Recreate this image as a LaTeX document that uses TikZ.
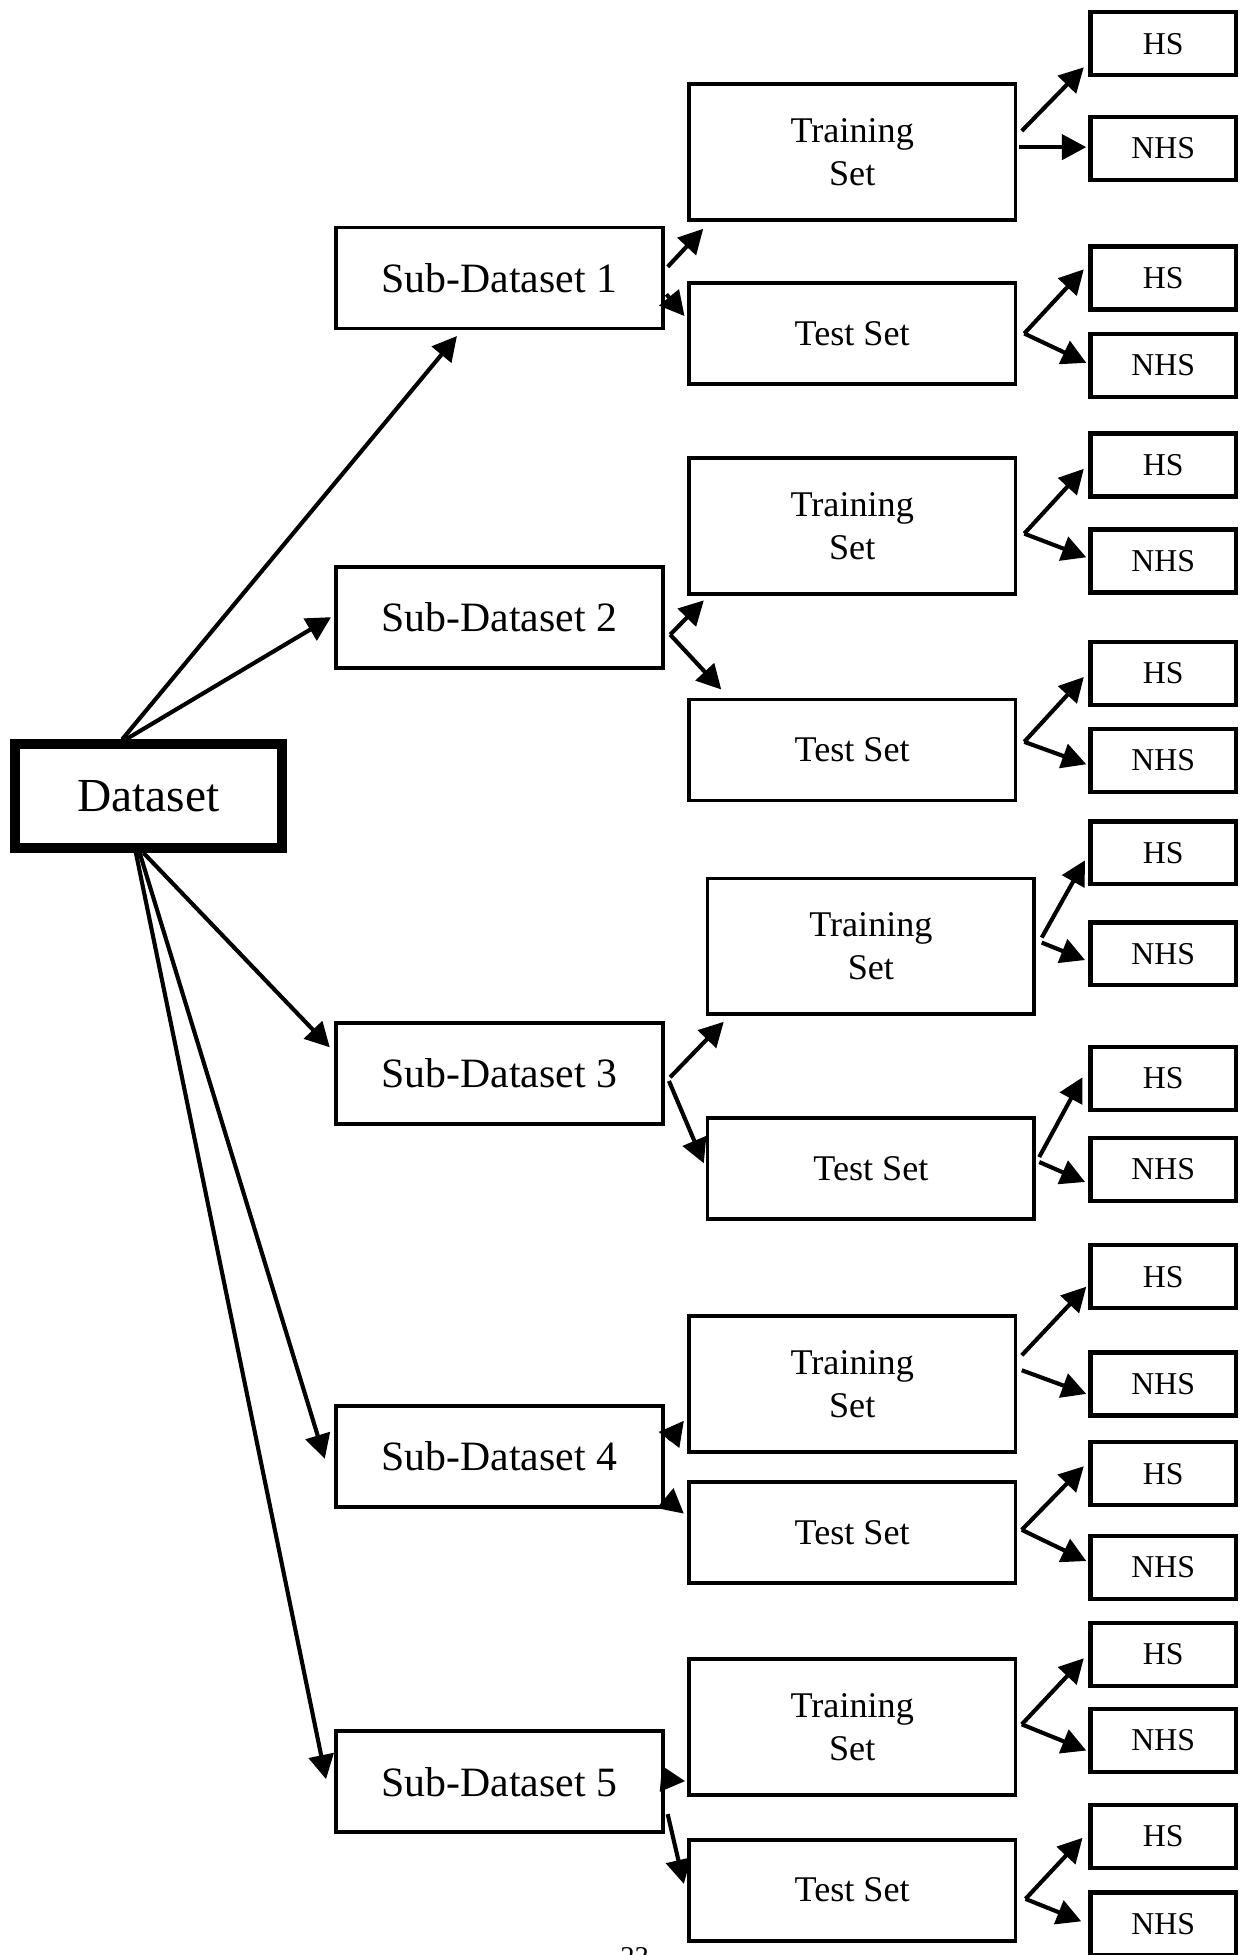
\documentclass[tikz,border=0pt]{standalone}
\usepackage{fontspec}
\setmainfont{Liberation Serif}
\usetikzlibrary{arrows.meta}
\tikzset{
  box/.style={draw, line width=3pt, rectangle, inner sep=0pt, align=center},
  dsbox/.style={draw, line width=8pt, rectangle, inner sep=0pt, minimum width=214pt, minimum height=83pt, font=\fontsize{38}{45}\selectfont},
  subbox/.style={box, minimum width=262pt, minimum height=81pt, font=\fontsize{33.5}{40}\selectfont},
  trbox/.style={box, minimum width=262pt, minimum height=109pt, font=\fontsize{29}{34.5}\selectfont},
  tebox/.style={box, minimum width=262pt, minimum height=81pt, font=\fontsize{29}{34.5}\selectfont},
  leaf/.style={draw, line width=3.5pt, rectangle, inner sep=0pt, minimum width=116.5pt, minimum height=50.5pt, font=\fontsize{25.5}{30}\selectfont},
  arr/.style={line width=3.3pt, -{Triangle[length=19.5pt,width=20pt]}}
}
\begin{document}
\begin{tikzpicture}[x=1pt,y=-1pt]
\fill[white] (0,0) rectangle (994,1568);
\useasboundingbox (0,0) rectangle (994,1568);

% main node
\node[dsbox] (ds) at (119,638.5) {Dataset};

% sub-datasets
\node[subbox] (sd1) at (400.5,223) {Sub-Dataset 1};
\node[subbox] (sd2) at (400.5,495) {Sub-Dataset 2};
\node[subbox] (sd3) at (400.5,861) {Sub-Dataset 3};
\node[subbox] (sd4) at (400.5,1168) {Sub-Dataset 4};
\node[subbox] (sd5) at (400.5,1429) {Sub-Dataset 5};

% training / test sets
\node[trbox] (tr1) at (683.5,122) {Training\\Set};
\node[tebox] (te1) at (683.5,267.5) {Test Set};
\node[trbox] (tr2) at (683.5,422) {Training\\Set};
\node[tebox] (te2) at (683.5,601.5) {Test Set};
\node[trbox] (tr3) at (698.5,759) {Training\\Set};
\node[tebox] (te3) at (698.5,937) {Test Set};
\node[trbox] (tr4) at (683.5,1110) {Training\\Set};
\node[tebox] (te4) at (683.5,1229) {Test Set};
\node[trbox] (tr5) at (683.5,1385) {Training\\Set};
\node[tebox] (te5) at (683.5,1516) {Test Set};

% leaves
\node[leaf] (hs1) at (933,35) {HS};
\node[leaf] (nhs1) at (933,119) {NHS};
\node[leaf] (hs2) at (933,223) {HS};
\node[leaf] (nhs2) at (933,293) {NHS};
\node[leaf] (hs3) at (933,373) {HS};
\node[leaf] (nhs3) at (933,450) {NHS};
\node[leaf] (hs4) at (933,540) {HS};
\node[leaf] (nhs4) at (933,610) {NHS};
\node[leaf] (hs5) at (933,684) {HS};
\node[leaf] (nhs5) at (933,765) {NHS};
\node[leaf] (hs6) at (933,865) {HS};
\node[leaf] (nhs6) at (933,938) {NHS};
\node[leaf] (hs7) at (933,1024) {HS};
\node[leaf] (nhs7) at (933,1110) {NHS};
\node[leaf] (hs8) at (933,1182) {HS};
\node[leaf] (nhs8) at (933,1257) {NHS};
\node[leaf] (hs9) at (933,1327) {HS};
\node[leaf] (nhs9) at (933,1396) {NHS};
\node[leaf] (hs10) at (933,1473) {HS};
\node[leaf] (nhs10) at (933,1543) {NHS};

% page number (cut off at the bottom, as in the reference)
\node[anchor=north, inner sep=0pt, font=\fontsize{23}{27}\selectfont] (pg) at (509,1562) {23};

% Dataset -> sub-datasets
\draw[arr] ([xshift=-21pt]ds.north) -- ([xshift=-34pt,yshift=-4.5pt]sd1.south);
\draw[arr] ([xshift=-18pt]ds.north) -- ([xshift=-2.5pt]sd2.west);
\draw[arr] ([xshift=-4pt]ds.south) -- ([xshift=-3.5pt,yshift=21pt]sd3.west);
\draw[arr] ([xshift=-7pt]ds.south) -- ([xshift=-7.5pt,yshift=-2pt]sd4.west);
\draw[arr] ([xshift=-10pt]ds.south) -- ([xshift=-6.5pt,yshift=2pt]sd5.west);

% sub-datasets -> training / test
\draw[arr] ([xshift=2.5pt,yshift=9pt]sd1.east) -- ([xshift=13pt,yshift=-5.5pt]tr1.south west);
\draw[arr] ([xshift=1.5pt,yshift=-13pt]sd1.east) -- ([xshift=-2pt,yshift=14pt]te1.west);
\draw[arr] ([xshift=4.5pt,yshift=-14pt]sd2.east) -- ([xshift=13.5pt,yshift=-3.5pt]tr2.south west);
\draw[arr] ([xshift=4.5pt,yshift=-14pt]sd2.east) -- ([xshift=27.5pt,yshift=6.5pt]te2.north west);
\draw[arr] ([xshift=4.5pt,yshift=-3pt]sd3.east) -- ([xshift=14.5pt,yshift=-4.5pt]tr3.south west);
\draw[arr] ([xshift=3.5pt,yshift=-6pt]sd3.east) -- ([xshift=-1.5pt,yshift=4pt]te3.west);
\draw[arr] ([xshift=3.5pt,yshift=13pt]sd4.east) -- ([xshift=-2.5pt,yshift=26.5pt]tr4.south west);
\draw[arr] ([xshift=3.5pt,yshift=-36pt]sd4.east) -- ([xshift=-2.5pt,yshift=15pt]te4.west);
\draw[arr] ([yshift=2pt]sd5.east) -- ([xshift=-1.5pt,yshift=12.5pt]tr5.south west);
\draw[arr] ([xshift=2.5pt,yshift=-26pt]sd5.east) -- ([xshift=-2.5pt,yshift=5pt]te5.west);

% training / test -> HS / NHS
\draw[arr] ([xshift=3.5pt,yshift=17pt]tr1.east) -- ([xshift=-3.75pt,yshift=-19pt]hs1.west);
\draw[arr] ([xshift=1.5pt,yshift=4pt]tr1.east) -- ([xshift=-1.75pt,yshift=1pt]nhs1.west);
\draw[arr] ([xshift=5.5pt]te1.east) -- ([xshift=-3.75pt,yshift=7pt]hs2.west);
\draw[arr] ([xshift=5.5pt]te1.east) -- ([xshift=-1.75pt,yshift=2pt]nhs2.west);
\draw[arr] ([xshift=5.5pt,yshift=-6pt]tr2.east) -- ([xshift=-3.75pt,yshift=-3pt]hs3.west);
\draw[arr] ([xshift=5.5pt,yshift=-6pt]tr2.east) -- ([xshift=-1.75pt,yshift=3pt]nhs3.west);
\draw[arr] ([xshift=5.5pt,yshift=6.5pt]te2.east) -- ([xshift=-3.75pt,yshift=-3pt]hs4.west);
\draw[arr] ([xshift=5.5pt,yshift=6.5pt]te2.east) -- ([xshift=-1.75pt,yshift=-3pt]nhs4.west);
\draw[arr] ([xshift=4.5pt,yshift=7pt]tr3.east) -- ([xshift=-2.75pt,yshift=-6pt]hs5.west);
\draw[arr] ([xshift=4.5pt,yshift=3pt]tr3.east) -- ([xshift=-2.75pt,yshift=-5pt]nhs5.west);
\draw[arr] ([xshift=2.5pt,yshift=9pt]te3.east) -- ([xshift=-4.75pt,yshift=1pt]hs6.west);
\draw[arr] ([xshift=2.5pt,yshift=5pt]te3.east) -- ([xshift=-2.75pt,yshift=-10pt]nhs6.west);
\draw[arr] ([xshift=3.5pt,yshift=23pt]tr4.east) -- ([xshift=-1.75pt,yshift=-8pt]hs7.west);
\draw[arr] ([xshift=3.5pt,yshift=11pt]tr4.east) -- ([xshift=-1.75pt,yshift=-8pt]nhs7.west);
\draw[arr] ([xshift=3.5pt,yshift=2pt]te4.east) -- ([xshift=-3.75pt,yshift=6pt]hs8.west);
\draw[arr] ([xshift=3.5pt,yshift=2pt]te4.east) -- ([xshift=-1.75pt,yshift=5pt]nhs8.west);
\draw[arr] ([xshift=3.5pt,yshift=2pt]tr5.east) -- ([xshift=-3.75pt,yshift=-3pt]hs9.west);
\draw[arr] ([xshift=3.5pt,yshift=2pt]tr5.east) -- ([xshift=-1.75pt,yshift=-8pt]nhs9.west);
\draw[arr] ([xshift=6.5pt,yshift=-7pt]te5.east) -- ([xshift=-4.75pt,yshift=-1pt]hs10.west);
\draw[arr] ([xshift=6.5pt,yshift=-7pt]te5.east) -- ([xshift=-5.75pt,yshift=2pt]nhs10.west);
\end{tikzpicture}
\end{document}
